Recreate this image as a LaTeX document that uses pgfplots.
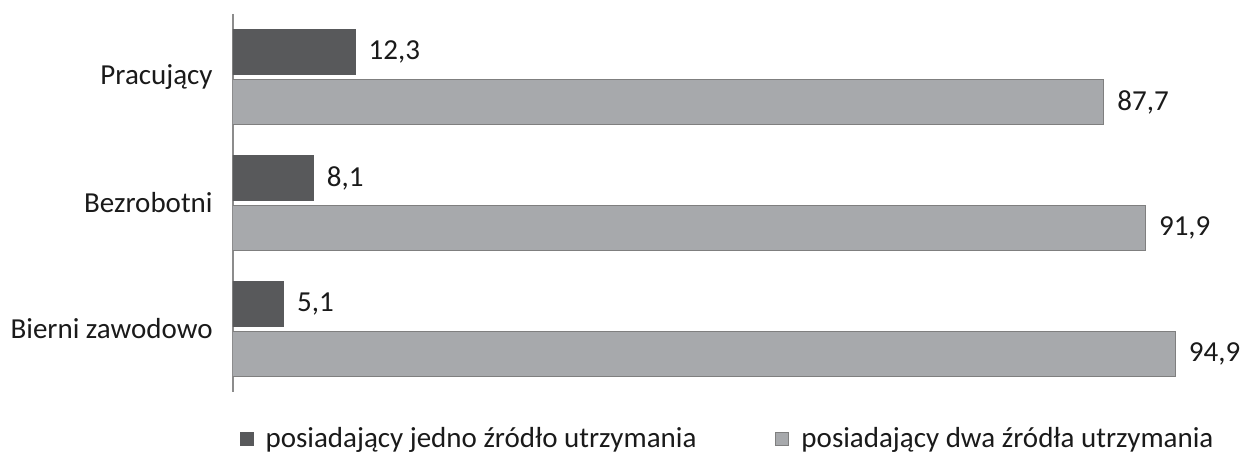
\documentclass[border=0pt]{standalone}
\usepackage{pgfplots}
\pgfplotsset{compat=1.18}
\usepackage{fontspec}
\setmainfont{Carlito}
\definecolor{darkbar}{HTML}{58595B}
\definecolor{lightbar}{HTML}{A7A9AC}
\definecolor{lightedge}{HTML}{7F7F7F}
\definecolor{axisgray}{HTML}{8C8C8C}
\definecolor{txt}{HTML}{1A1A1A}
\begin{document}
\begin{tikzpicture}
\begin{axis}[
  name=ax,
  scale only axis,
  width=496.5pt, height=189pt,
  xbar,
  xmin=0, xmax=100,
  ymin=-0.5, ymax=2.5,
  y dir=reverse,
  ytick={0,1,2},
  yticklabels={Pracujący,Bezrobotni,Bierni zawodowo},
  major tick length=0pt,
  axis x line=none,
  axis y line=left,
  y axis line style={-, draw=axisgray, line width=0.6pt},
  yticklabel style={font=\fontsize{14.5pt}{17pt}\selectfont, text=txt, inner sep=0pt, xshift=-10pt},
  bar width=22.5pt,
  nodes near coords,
  every node near coord/.append style={font=\fontsize{14.5pt}{17pt}\selectfont, text=txt, inner sep=0pt, xshift=6.5pt, anchor=west},
  /pgf/number format/.cd, use comma, fixed, fixed zerofill, precision=1, assume math mode=true,
  /pgfplots/.cd,
  legend columns=2,
  legend style={draw=none, fill=none, at={(0.499,-0.124)}, anchor=center,
    font=\fontsize{14.5pt}{17pt}\selectfont, text=txt,
    /tikz/every even column/.append style={column sep=37.5pt}},
  legend image code/.code={\draw[#1] (0pt,-3.25pt) rectangle (6.5pt,3.25pt); \path (10.5pt,0pt);},
]
\addplot[fill=darkbar, draw=darkbar, line width=0.5pt, bar shift=12.5pt] coordinates {(12.3,0) (8.1,1) (5.1,2)};
\addplot[fill=lightbar, draw=lightedge, line width=0.5pt, bar shift=-12.5pt] coordinates {(87.7,0) (91.9,1) (94.9,2)};
\legend{posiadający jedno źródło utrzymania, posiadający dwa źródła utrzymania}
\end{axis}
\pgfresetboundingbox
\path[use as bounding box] (ax.south west) ++(-116.5pt,-30.5pt) rectangle ++(621pt,226.5pt);
\end{tikzpicture}
\end{document}
